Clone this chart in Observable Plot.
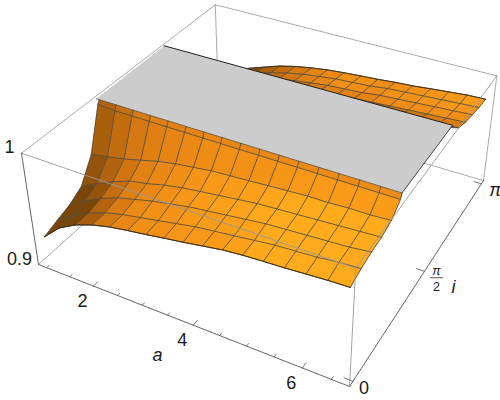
<!DOCTYPE html>
<html><head><meta charset="utf-8">
<script src="https://cdn.jsdelivr.net/npm/d3@7"></script>
<script src="https://cdn.jsdelivr.net/npm/@observablehq/plot@0.6"></script>
<style>html,body{margin:0;background:#fff}svg{display:block}</style>
</head><body><div id="chart"></div>
<script>
// grid of the surface
const aValues=[0.94,1.30,1.66,2.02,2.38,2.74,3.10,3.45,3.81,4.17,4.53,4.89,5.25,5.61,5.97,6.33,6.69];
const iFront=[0,0.196,0.393,0.589,0.785,0.96,0.985];
const iBack=[2.16,2.356,2.553,2.749,2.945,3.142];
// height z(a,i), front rows
const zF0=[.9246,.9385,.947,.9527,.9567,.9594,.9617,.9643,.9667,.9695,.9722,.9738,.9748,.9756,.9768,.9779,.9786];
const zF1=[.929,.939,.947,.953,.957,.960,.963,.966,.969,.971,.973,.975,.977,.978,.979,.981,.982];
const zF2=[.933,.942,.950,.956,.960,.964,.967,.970,.972,.974,.976,.978,.979,.980,.981,.982,.984];
const zF3=[.940,.948,.955,.961,.964,.968,.971,.973,.975,.977,.979,.980,.981,.982,.983,.984,.985];
const zF4=[.960,.963,.966,.970,.974,.977,.979,.981,.982,.983,.984,.985,.986,.986,.987,.987,.988];
const zF5=[.997,.996,.996,.996,.996,.996,.996,.996,.996,.996,.996,.996,.996,.996,.996,.996,.996];
const zF6=[1,1,1,1,1,1,1,1,1,1,1,1,1,1,1,1,1];
// back rows
const zB0=[.998,.998,.998,.998,.998,.998,.998,.998,.998,.998,.998,.998,.998,.998,.998,.998,.998];
const zB1=[.964,.969,.972,.974,.976,.979,.981,.983,.984,.985,.986,.986,.987,.987,.988,.988,.989];
const zB2=[.949,.957,.961,.964,.967,.970,.973,.975,.977,.978,.979,.980,.981,.982,.983,.984,.985];
const zB3=[.939,.949,.954,.959,.963,.967,.970,.972,.974,.975,.976,.978,.979,.980,.981,.982,.983];
const zB4=[.929,.943,.951,.956,.961,.965,.968,.970,.972,.973,.974,.976,.977,.978,.979,.980,.981];
const zB5=[.9234,.9404,.9489,.9543,.9596,.9634,.9662,.9684,.9699,.9711,.9722,.9737,.9747,.9764,.9779,.9794,.98];
// clipped plateau
const plateA=[0.88,6.69,6.69,0.86];
const plateI=[0.985,0.985,2.16,2.16];
// box ranges and ticks
const aRange=[0.82,6.81], iRange=[-0.0654,3.207], zRange=[0.9,1];
const aMajor=[2,4,6], aMinor=[1,1.5,2.5,3,3.5,4.5,5,5.5,6.5];
const iTicks=[0,Math.PI/2,Math.PI];

// camera: perspective map of the unit box to the picture
const cam={o:[38,264],a:[267.4,73.75],b:[231.7,-137.5],c:[-18.4,-121.5],pa:-.125,pb:.237,pc:-.067};
function P(a,i,z){
  const u=(a-aRange[0])/(aRange[1]-aRange[0]),v=(i-iRange[0])/(iRange[1]-iRange[0]),w=(z-zRange[0])/(zRange[1]-zRange[0]);
  const d=1+cam.pa*u+cam.pb*v+cam.pc*w;
  return [(cam.o[0]+cam.a[0]*u+cam.b[0]*v+cam.c[0]*w)/d,(cam.o[1]+cam.a[1]*u+cam.b[1]*v+cam.c[1]*w)/d];
}
const pt=(a,i,z,id,extra)=>{const p=P(a,i,z);return {px:p[0],py:p[1],id,...extra};};
const ramp=d3.scaleLinear().domain([0,.25,.5,.62,.72]).range(["#7a4608","#c06a0e","#ee8a14","#fa9a18","#ffab1c"]).clamp(true);

function section(iv,rows,name,meshRows){
  const cells=[],lines=[];
  const nR=rows.length-1,nC=aValues.length-1;
  // brightness of each cell from its slope, softened over its neighbours
  const raw=d3.range(nR).map(r=>d3.range(nC).map(c=>{
    const z00=rows[r][c],z01=rows[r][c+1],z10=rows[r+1][c],z11=rows[r+1][c+1];
    const du=(aValues[c+1]-aValues[c])/(aRange[1]-aRange[0]),dv=(iv[r+1]-iv[r])/(iRange[1]-iRange[0]);
    const sx=((z01+z11-z00-z10)/2*10)/du,sy=((z10+z11-z00-z01)/2*10)/dv;
    return (-.55*sx+.3*sy+.8)/Math.hypot(1,sx,sy)-.3*Math.exp(-c*.9);
  }));
  const soft=(r,c)=>{let s=0,n=0;for(let dr=-1;dr<=1;dr++)for(let dc=-1;dc<=1;dc++){
    const w=(dr===0?2:1)*(dc===0?2:1);
    if(raw[r+dr]&&raw[r+dr][c+dc]!==undefined){s+=w*raw[r+dr][c+dc];n+=w;}
  }return s/n;};
  for(let r=nR-1;r>=0;r--)for(let c=0;c<nC;c++){
    const color=ramp(soft(r,c)),id=`${name}${r}-${c}`;
    [[c,r],[c+1,r],[c+1,r+1],[c,r+1],[c,r]].forEach(([cc,rr])=>cells.push(pt(aValues[cc],iv[rr],rows[rr][cc],id,{color})));
  }
  rows.forEach((row,r)=>{if(r<meshRows)aValues.forEach((a,c)=>lines.push(pt(a,iv[r],row[c],`${name}r${r}`)));});
  aValues.forEach((a,c)=>{iv.forEach((v,r)=>lines.push(pt(a,v,rows[r][c],`${name}c${c}`)));});
  return {cells,lines};
}
const front=section(iFront,[zF0,zF1,zF2,zF3,zF4,zF5,zF6],"f",6);
const back=section(iBack,[zB0,zB1,zB2,zB3,zB4,zB5],"b",6);
const plate=plateA.concat(plateA[0]).map((a,k)=>pt(a,plateI[k%4],1,"plate"));

const [a0,a1]=aRange,[i0,i1]=iRange,[z0,z1]=zRange;
const edge=(list,id)=>list.map(q=>pt(q[0],q[1],q[2],id));
const boxBack=[
  edge([[a0,i1,z1],[a1,i1,z1]],"e1"),edge([[a0,i0,z1],[a0,i1,z1]],"e2"),
  edge([[a1,i1,z0],[a1,i1,z1]],"e3"),edge([[a0,i1,z0],[a1,i1,z0]],"e4"),
  edge([[a0,i0,z0],[a0,i1,z0]],"e5"),edge([[a0,i1,z0],[a0,i1,z1]],"e6")].flat();
const boxFront=[
  edge([[a0,i0,z1],[a1,i0,z1]],"f1"),edge([[a1,i0,z1],[a1,i1,z1]],"f2"),edge([[a1,i0,z0],[a1,i0,z1]],"f3")].flat();
const boxAxes=[
  edge([[a0,i0,z0],[a1,i0,z0]],"x"),edge([[a1,i0,z0],[a1,i1,z0]],"y"),edge([[a0,i0,z0],[a0,i0,z1]],"z")].flat();
const aTick=(list,len)=>list.flatMap((a,k)=>edge([[a,i0,z0],[a,i0+len,z0]],`t${len}${k}`));
const iTick=iTicks.flatMap((v,k)=>edge([[a1,v,z0],[a1-.15,v,z0]],`it${k}`));
const lab=(a,i,z,text)=>{const p=P(a,i,z);return {px:p[0],py:p[1],text};};
const font={fontFamily:"Liberation Sans, Arial, sans-serif",fill:"#1a1a1a"};
const L=(data,o={})=>Plot.line(data,{x:"px",y:"py",z:"id",curve:"linear",...o});
const mesh={stroke:"#4d4a40",strokeWidth:.85};
const boundary=(iv,rows,r,id)=>aValues.map((a,c)=>pt(a,iv[r],rows[r][c],id));
const mid=lab(a1,Math.PI/2,z0,"");
const barOffsets=[6,18];

const chart=Plot.plot({
  width:500,height:400,margin:0,
  x:{domain:[0,500],range:[0,500],axis:null},
  y:{domain:[0,400],range:[0,400],axis:null},
  color:{type:"identity"},
  marks:[
    L(boxBack,{stroke:"#a0a0a0",strokeWidth:.9}),
    L(back.cells,{fill:"color",stroke:"color",strokeWidth:.4}),
    L(back.lines,mesh),
    L(boundary(iBack,[zB0,zB1,zB2,zB3,zB4,zB5],5,"bb"),{stroke:"#3a2a10",strokeWidth:.8}),
    L(plate,{fill:"#cccccc",stroke:"none"}),
    L(edge([[plateA[2],plateI[2],1],[plateA[3],plateI[3],1]],"pb"),{stroke:"#222",strokeWidth:1}),
    L(edge([[plateA[1],plateI[1],1],[plateA[2],plateI[2],1]],"pr"),{stroke:"#333",strokeWidth:.9}),
    L(front.cells,{fill:"color",stroke:"color",strokeWidth:.4}),
    L(front.lines,mesh),
    L(boundary(iFront,[zF0],0,"fb"),{stroke:"#3a2a10",strokeWidth:.9}),
    L(edge([[plateA[0],plateI[0],1],[plateA[1],plateI[1],1]],"pf"),{stroke:"#4a4a40",strokeWidth:.7}),
    L(boxFront,{stroke:"#999",strokeWidth:.9}),
    L(boxAxes,{stroke:"#555",strokeWidth:.9}),
    L(aTick(aMajor,.065),{stroke:"#555",strokeWidth:.8}),
    L(aTick(aMinor,.035),{stroke:"#555",strokeWidth:.8}),
    L(iTick,{stroke:"#555",strokeWidth:.8}),
    Plot.text(aMajor.map(a=>lab(a,i0,z0,String(a))),{x:"px",y:"py",text:"text",dx:-11,dy:15.5,fontSize:18,...font}),
    Plot.text([lab(a0,i0,z1,"1")],{x:"px",y:"py",text:"text",dx:-12,dy:-6,fontSize:18,...font}),
    Plot.text([lab(a0,i0,z0,"0.9")],{x:"px",y:"py",text:"text",dx:-19,dy:-5,fontSize:18,...font}),
    Plot.text([lab(a1,0,z0,"0")],{x:"px",y:"py",text:"text",dx:11,dy:7,fontSize:18,...font}),
    Plot.text([lab(a1,Math.PI,z0,"π")],{x:"px",y:"py",text:"text",dx:14,dy:6.5,fontSize:18,fontStyle:"italic",...font}),
    Plot.text([lab(a1,Math.PI/2,z0,"π")],{x:"px",y:"py",text:"text",dx:12,dy:0,fontSize:12.5,fontStyle:"italic",...font}),
    Plot.text([lab(a1,Math.PI/2,z0,"2")],{x:"px",y:"py",text:"text",dx:12,dy:16,fontSize:12.5,...font}),
    Plot.line(barOffsets,{x:d=>mid.px+d,y:()=>mid.py,dy:6.5,stroke:"#222",strokeWidth:.8}),
    Plot.text([lab(3.5,i0,z0,"a")],{x:"px",y:"py",text:"text",dx:-10,dy:40,fontSize:18,fontStyle:"italic",...font}),
    Plot.text([lab(a1,Math.PI/2,z0,"i")],{x:"px",y:"py",text:"text",dx:29,dy:16,fontSize:18,fontStyle:"italic",...font})
  ]
});
document.getElementById("chart").append(chart);
</script></body></html>
